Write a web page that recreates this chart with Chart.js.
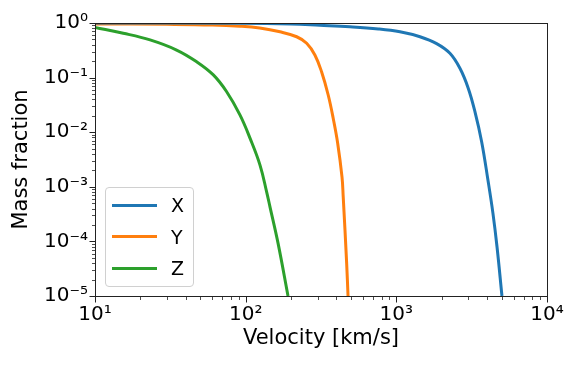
<!DOCTYPE html>
<html>
<head>
<meta charset="utf-8">
<script src="https://cdn.jsdelivr.net/npm/chart.js@4.4.1/dist/chart.umd.min.js"></script>
<style>
    body { margin: 0; background: #fff; }
    #wrap { position: relative; width: 581px; height: 365px; }
    #legend {
        position: absolute; left: 105px; top: 187px; width: 87px; height: 98px;
        border: 1px solid #d0d0d0; border-radius: 4px; background: rgba(255,255,255,0.8);
        font-family: 'DejaVu Sans', sans-serif; font-size: 19px; color: #000;
    }
    .leg-row { position: absolute; left: 6px; height: 20px; display: flex; align-items: center; }
    .leg-line { width: 45px; height: 3px; margin-right: 14px; }
</style>
</head>
<body>
<div id="wrap">
    <canvas id="chart" width="581" height="365"></canvas>
    <div id="legend"></div>
</div>
<script>
// data
const seriesNames = ['X', 'Y', 'Z'];
const seriesColors = ['#1f77b4', '#ff7f0e', '#2ca02c'];

const xVelocity = [10, 92, 200, 311, 492, 760, 1057, 1435, 1851, 2268, 2643, 3000, 3324, 3683, 4055, 4376, 4660, 5024];
const xFraction = [1.0, 0.99, 0.96, 0.91, 0.855, 0.78, 0.69, 0.56, 0.42, 0.279, 0.148, 0.064, 0.0238, 0.0067, 0.00133, 0.00033, 0.000079, 0.00001];

const yVelocity = [10, 30, 60, 91.6, 124, 169, 218, 254, 288, 319, 353, 381, 408, 436, 444, 468, 478];
const yFraction = [0.96, 0.945, 0.92, 0.874, 0.81, 0.69, 0.56, 0.425, 0.26, 0.128, 0.048, 0.018, 0.0063, 0.0015, 0.00066, 0.00004, 0.00001];

const zVelocity = [10, 15.4, 23.2, 34.8, 47.3, 61, 74.8, 91.6, 107, 124.5, 138, 145, 164, 191];
const zFraction = [0.83, 0.65, 0.49, 0.32, 0.195, 0.112, 0.055, 0.0207, 0.0077, 0.0025, 0.00079, 0.00043, 0.000093, 0.00001];

const xTicks = [10, 100, 1000, 10000];
const xTickLabels = ['10\u00b9', '10\u00b2', '10\u00b3', '10\u2074'];
const yTicks = [1e-5, 1e-4, 1e-3, 1e-2, 1e-1, 1];
const yTickLabels = ['10\u207b\u2075', '10\u207b\u2074', '10\u207b\u00b3', '10\u207b\u00b2', '10\u207b\u00b9', '10\u2070'];

const velocities = [xVelocity, yVelocity, zVelocity];
const fractions = [xFraction, yFraction, zFraction];

Chart.defaults.font.family = "'DejaVu Sans', sans-serif";
Chart.defaults.color = '#000';

function minorValues(min, max) {
    const out = [];
    for (let d = Math.floor(Math.log10(min)); d < Math.ceil(Math.log10(max)); d++) {
        for (let m = 2; m <= 9; m++) {
            const v = m * Math.pow(10, d);
            if (v > min && v < max) out.push(v);
        }
    }
    return out;
}

// matplotlib style frame and outward tick marks
const frameTicks = {
    id: 'frameTicks',
    afterDraw(chart) {
        const ctx = chart.ctx;
        const a = chart.chartArea;
        const xs = chart.scales.x, ys = chart.scales.y;
        ctx.save();
        ctx.strokeStyle = '#222';
        ctx.lineWidth = 1;
        ctx.strokeRect(Math.round(a.left) + 0.5, Math.round(a.top) + 0.5,
            Math.round(a.right) - Math.round(a.left), Math.round(a.bottom) - Math.round(a.top));
        const b = Math.round(a.bottom) + 0.5, l = Math.round(a.left) + 0.5;
        ctx.beginPath();
        xTicks.forEach(v => { const p = Math.round(xs.getPixelForValue(v)) + 0.5; ctx.moveTo(p, b); ctx.lineTo(p, b + 6); });
        yTicks.forEach(v => { const p = Math.round(ys.getPixelForValue(v)) + 0.5; ctx.moveTo(l, p); ctx.lineTo(l - 6, p); });
        ctx.stroke();
        ctx.lineWidth = 0.8;
        ctx.beginPath();
        minorValues(xs.min, xs.max).forEach(v => { const p = Math.round(xs.getPixelForValue(v)) + 0.5; ctx.moveTo(p, b); ctx.lineTo(p, b + 3.5); });
        minorValues(ys.min, ys.max).forEach(v => { const p = Math.round(ys.getPixelForValue(v)) + 0.5; ctx.moveTo(l, p); ctx.lineTo(l - 3.5, p); });
        ctx.stroke();
        ctx.restore();
    }
};

const datasets = seriesNames.map((name, i) => ({
    label: name,
    data: velocities[i].map((v, j) => ({ x: v, y: fractions[i][j] })),
    borderColor: seriesColors[i],
    backgroundColor: seriesColors[i],
    borderWidth: 3,
    pointRadius: 0,
    tension: 0.4,
    fill: false
}));

new Chart(document.getElementById('chart'), {
    type: 'line',
    data: { datasets: datasets },
    plugins: [frameTicks],
    options: {
        responsive: false,
        animation: false,
        layout: { padding: { left: 0, top: 23, right: 34, bottom: 0 } },
        plugins: { legend: { display: false }, tooltip: { enabled: false } },
        scales: {
            x: {
                type: 'logarithmic',
                min: 10, max: 10000,
                afterBuildTicks: s => { s.ticks = xTicks.map(v => ({ value: v })); },
                afterFit: s => { s.height = 69; },
                grid: { display: false, drawTicks: false },
                border: { display: false },
                ticks: {
                    font: { size: 20 }, padding: 7, maxRotation: 0, autoSkip: false,
                    callback: (v, i) => xTickLabels[i]
                },
                title: { display: true, text: 'Velocity [km/s]', font: { size: 21 }, padding: { top: 0, bottom: 14 } }
            },
            y: {
                type: 'logarithmic',
                min: 1e-5, max: 1,
                afterBuildTicks: s => { s.ticks = yTicks.map(v => ({ value: v })); },
                afterFit: s => { s.width = 95; },
                grid: { display: false, drawTicks: false },
                border: { display: false },
                ticks: {
                    font: { size: 20 }, padding: 7, autoSkip: false,
                    callback: (v, i) => yTickLabels[i]
                },
                title: { display: true, text: 'Mass fraction', font: { size: 21 }, padding: { top: 9, bottom: 0 } }
            }
        }
    }
});

document.getElementById('legend').innerHTML = seriesNames.map((name, i) =>
    `<div class="leg-row" style="top:${7 + i * 31.5}px"><div class="leg-line" style="background:${seriesColors[i]}"></div>${name}</div>`
).join('');
</script>
</body>
</html>
